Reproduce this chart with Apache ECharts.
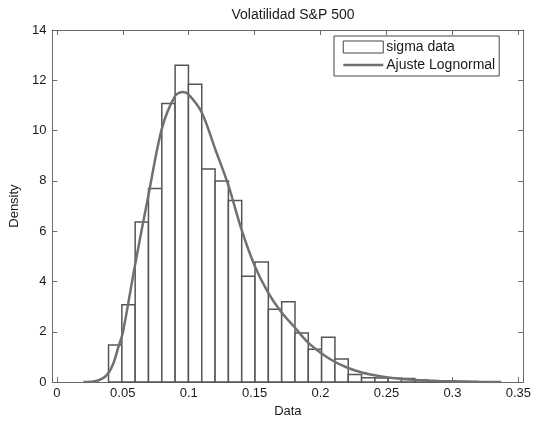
<!DOCTYPE html>
<html>
<head>
<meta charset="utf-8">
<script src="https://cdn.jsdelivr.net/npm/echarts@6/dist/echarts.min.js"></script>
<style>html,body{margin:0;padding:0;background:#fff}#c{width:534px;height:423px}</style>
</head>
<body>
<div id="c"></div>
<script>
// Histogram bins (density)
var binStart = 0.0392;
var binWidth = 0.0101;
var densities = [1.48, 3.08, 6.37, 7.70, 11.08, 12.60, 11.84, 8.47, 8.00, 7.22,
                 4.21, 4.78, 2.90, 3.19, 1.95, 1.31, 1.78, 0.92, 0.30, 0.17,
                 0.16, 0.15, 0.14, 0.08, 0.04, 0.05];
// Lognormal fit curve
var fitX = [0.020, 0.028, 0.0354, 0.0392, 0.043, 0.0468, 0.050, 0.0594, 0.0695, 0.0796,
            0.0897, 0.0955, 0.0998, 0.1099, 0.120, 0.130, 0.140, 0.150, 0.160, 0.170,
            0.180, 0.190, 0.200, 0.210, 0.220, 0.230, 0.240, 0.250, 0.260, 0.270,
            0.280, 0.290, 0.300, 0.320, 0.337];
var fitY = [0, 0.02, 0.17, 0.37, 0.76, 1.42, 1.95, 4.69, 7.44, 10.07,
            11.38, 11.53, 11.44, 10.72, 9.28, 7.84, 6.07, 4.63, 3.58, 2.80,
            2.20, 1.60, 1.17, 0.83, 0.58, 0.40, 0.28, 0.19, 0.13, 0.09,
            0.06, 0.04, 0.03, 0.01, 0.005];
var xTicks = [0, 0.05, 0.1, 0.15, 0.2, 0.25, 0.3, 0.35];
var yTicks = [0, 2, 4, 6, 8, 10, 12, 14];

var histData = densities.map(function (d, i) {
  return [binStart + i * binWidth, binStart + (i + 1) * binWidth, d];
});
var fitData = fitX.map(function (x, i) { return [x, fitY[i]]; });

var FONT = 'Liberation Sans, Arial, Helvetica, sans-serif';
var AXC = '#6a6a6a';
var TXT = '#1a1a1a';

var chart = echarts.init(document.getElementById('c'), null, {renderer: 'canvas'});
function xAxisBase(pos, showLabel) {
  return {
    type: 'value', position: pos, min: -0.0034, max: 0.3538,
    axisLine: {show: true, onZero: false, lineStyle: {color: AXC, width: 1}},
    axisTick: {show: true, inside: true, length: 5, customValues: xTicks, lineStyle: {color: AXC}},
    axisLabel: {show: showLabel, customValues: xTicks, color: TXT, fontFamily: FONT, fontSize: 13, margin: 5,
      formatter: function (v) { return String(v); }},
    splitLine: {show: false}
  };
}
function yAxisBase(pos, showLabel) {
  return {
    type: 'value', position: pos, min: 0, max: 14, interval: 2,
    axisLine: {show: true, onZero: false, lineStyle: {color: AXC, width: 1}},
    axisTick: {show: true, inside: true, length: 5, lineStyle: {color: AXC}},
    axisLabel: {show: showLabel, color: TXT, fontFamily: FONT, fontSize: 13, margin: 6},
    splitLine: {show: false}
  };
}
var xb = xAxisBase('bottom', true);
xb.name = 'Data'; xb.nameLocation = 'middle'; xb.nameGap = 21;
xb.nameTextStyle = {color: TXT, fontFamily: FONT, fontSize: 13};
var yl = yAxisBase('left', true);
yl.name = 'Density'; yl.nameLocation = 'middle'; yl.nameGap = 30; yl.nameRotate = 90;
yl.nameTextStyle = {color: TXT, fontFamily: FONT, fontSize: 13};

chart.setOption({
  animation: false,
  backgroundColor: '#fff',
  title: {
    text: 'Volatilidad S&P 500', left: 288, textAlign: 'center', top: 3,
    textStyle: {color: TXT, fontFamily: FONT, fontSize: 14, fontWeight: 'normal'}
  },
  grid: {left: 52, right: 10, top: 30, bottom: 37, containLabel: false},
  legend: {
    orient: 'vertical', left: 334, top: 36, padding: [4, 4, 4, 8], itemGap: 4,
    itemWidth: 40, itemHeight: 12,
    borderColor: '#444', borderWidth: 1, backgroundColor: '#fff',
    textStyle: {color: TXT, fontFamily: FONT, fontSize: 14, padding: [0, 0, 0, -2]},
    data: [
      {name: 'sigma data', icon: 'rect', itemStyle: {color: '#fff', borderColor: '#444', borderWidth: 1}},
      {name: 'Ajuste Lognormal',
        itemStyle: {color: 'rgba(255,255,255,0)', borderColor: 'rgba(255,255,255,0)', borderWidth: 0},
        lineStyle: {color: '#707070', width: 2.5}}
    ]
  },
  xAxis: [xb, xAxisBase('top', false)],
  yAxis: [yl, yAxisBase('right', false)],
  series: [
    {
      name: 'sigma data', type: 'custom', xAxisIndex: 0, yAxisIndex: 0,
      data: histData, encode: {x: [0, 1], y: 2},
      itemStyle: {color: '#fff', borderColor: '#555', borderWidth: 1.5},
      renderItem: function (params, api) {
        var p0 = api.coord([api.value(0), api.value(2)]);
        var p1 = api.coord([api.value(1), 0]);
        return {
          type: 'rect',
          shape: {x: p0[0], y: p0[1], width: p1[0] - p0[0], height: p1[1] - p0[1]},
          style: {fill: '#fff', stroke: '#555', lineWidth: 1.5}
        };
      },
      z: 2
    },
    {
      name: 'Ajuste Lognormal', type: 'line', xAxisIndex: 0, yAxisIndex: 0,
      data: fitData, smooth: 0.3, symbol: 'none',
      lineStyle: {color: '#707070', width: 2.5},
      itemStyle: {color: '#707070'},
      z: 3
    }
  ]
});
</script>
</body>
</html>
